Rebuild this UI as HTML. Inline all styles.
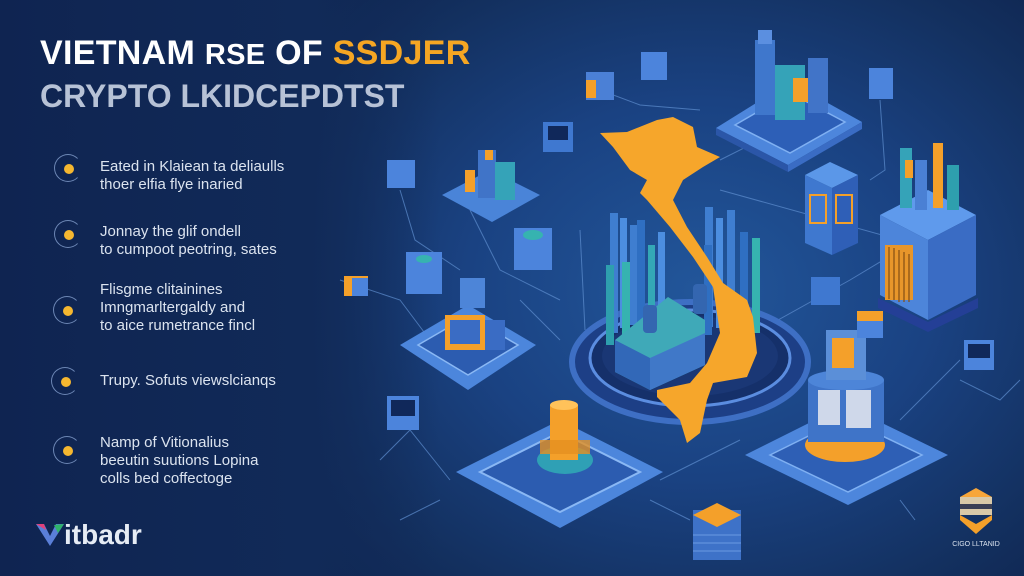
<!DOCTYPE html>
<html><head><meta charset="utf-8"><style>
html,body{margin:0;padding:0}
body{width:1024px;height:576px;overflow:hidden;position:relative;font-family:"Liberation Sans",sans-serif;
background:radial-gradient(ellipse 520px 420px at 700px 290px,#22569a 0%,#1a4282 45%,#13305f 80%,#0f2550 100%);}
.bg2{position:absolute;left:0;top:0;width:440px;height:576px;background:linear-gradient(90deg,#0f2451 0%,#112a58 70%,rgba(17,42,88,0) 100%)}
.t1{position:absolute;left:40px;top:34px;font-size:34px;font-weight:bold;color:#fff;letter-spacing:0.3px;white-space:nowrap}
.t1 .o{color:#f5a623}
.t2{position:absolute;left:40px;top:78px;font-size:32px;font-weight:bold;color:#b7c2d6;white-space:nowrap}
.b{position:absolute;left:100px;font-size:15px;line-height:18px;color:#dbe3ef;white-space:nowrap}
.c{position:absolute;width:28px;height:28px;border-radius:50%;border:1.5px solid #6c86b4;border-right-color:transparent;box-sizing:border-box}
.c:after{content:"";position:absolute;left:9px;top:9px;width:10px;height:10px;border-radius:50%;background:#f5b730}
.logo{position:absolute;left:38px;top:519px;font-size:28px;font-weight:bold;color:#e6ecf5}
</style></head><body>
<div class="bg2"></div>
<svg width="1024" height="576" style="position:absolute;left:0;top:0">
<g stroke="#5f8fd0" stroke-width="1" fill="none" opacity="0.7">
<path d="M400 190 L415 240 L460 270"/><path d="M430 340 L400 300 L340 280"/><path d="M600 90 L640 105 L700 110"/>
<path d="M560 300 L500 270 L470 210"/><path d="M720 160 L800 120"/><path d="M720 190 L900 240"/>
<path d="M760 330 L850 280 L900 250"/><path d="M880 100 L885 170 L870 180"/><path d="M960 360 L920 400 L900 420"/>
<path d="M450 480 L410 430 L380 460"/><path d="M660 480 L740 440"/><path d="M690 520 L650 500"/>
<path d="M900 500 L915 520"/><path d="M400 520 L440 500"/><path d="M520 300 L560 340"/><path d="M580 230 L585 330"/>
<path d="M960 380 L1000 400 L1020 380"/>
</g>
<ellipse cx="690" cy="362" rx="118" ry="60" fill="#1d3f86" stroke="#3e6fc4" stroke-width="6"/>
<ellipse cx="690" cy="358" rx="100" ry="48" fill="#15306a" stroke="#5b8de0" stroke-width="3"/>
<ellipse cx="690" cy="356" rx="88" ry="40" fill="#1a3775"/>
<g fill="#3f7ed0">
<rect x="610" y="213" width="8" height="120"/><rect x="620" y="218" width="7" height="110" fill="#4c8ee0"/><rect x="630" y="225" width="7" height="100"/>
<rect x="637" y="220" width="8" height="105" fill="#2f6fc2"/><rect x="648" y="245" width="7" height="85" fill="#34a8b6"/><rect x="658" y="232" width="7" height="90" fill="#4c8ee0"/>
<rect x="606" y="265" width="8" height="80" fill="#2e9fae"/><rect x="622" y="262" width="8" height="75" fill="#36b3b0"/>
<rect x="705" y="207" width="8" height="120"/><rect x="716" y="218" width="7" height="110" fill="#4c8ee0"/><rect x="727" y="210" width="8" height="115"/>
<rect x="740" y="232" width="8" height="100" fill="#2f6fc2"/><rect x="752" y="238" width="8" height="95" fill="#36b3b0"/><rect x="704" y="245" width="8" height="90" fill="#2f6fc2"/>
</g>
<polygon points="615,340 668,297 705,320 705,365 650,390 615,372" fill="#3fa9b8"/>
<polygon points="615,340 650,358 650,390 615,372" fill="#3268b8"/>
<polygon points="650,358 705,333 705,365 650,390" fill="#4078c8"/>
<rect x="643" y="305" width="14" height="28" rx="4" fill="#3466b0"/><rect x="693" y="284" width="14" height="30" rx="4" fill="#3466b0"/>
<polygon fill="#f6a62b" points="600,133 627,132 657,120 673,117 693,127 697,147 720,157 703,167 683,180 673,200 687,227 707,257 723,283 747,300 753,317 757,353 747,377 713,383 707,400 700,433 687,443 680,420 657,397 657,390 690,383 707,363 720,333 713,287 693,257 670,227 647,200 640,193 647,180 630,170 613,147"/>
<polygon points="716,128 790,82 862,122 788,165" fill="#4d86dc"/>
<polygon points="716,128 788,165 788,172 716,135" fill="#2b56a8"/><polygon points="788,165 862,122 862,129 788,172" fill="#3a6cc4"/>
<polygon points="735,125 790,93 845,122 790,153" fill="#2d5fb7" stroke="#7fb0f2" stroke-width="1.5"/>
<rect x="755" y="40" width="20" height="75" fill="#3f77cc"/><rect x="775" y="65" width="30" height="55" fill="#35a3b8"/>
<rect x="793" y="78" width="20" height="24" fill="#f4a02a"/><rect x="808" y="58" width="20" height="55" fill="#4174c8"/>
<rect x="758" y="30" width="14" height="14" fill="#5b8fe0"/>
<polygon points="880,215 928,190 976,215 928,240" fill="#5f9aec"/>
<polygon points="880,215 928,240 928,320 880,295" fill="#4d85da"/><polygon points="928,240 976,215 976,295 928,320" fill="#3a6cc4"/>
<rect x="885" y="245" width="28" height="55" fill="#e8962a"/>
<g stroke="#8a5414" stroke-width="1.3"><path d="M889 247v52M894 248v52M899 250v52M904 252v50M909 254v48"/></g>
<polygon points="878,298 928,322 978,298 978,308 928,332 878,308" fill="#243f96"/>
<rect x="900" y="148" width="12" height="60" fill="#35a3b8"/><rect x="915" y="160" width="12" height="50" fill="#4a80d4"/>
<rect x="933" y="143" width="10" height="65" fill="#f4a02a"/><rect x="947" y="165" width="12" height="45" fill="#2e9fae"/>
<rect x="905" y="160" width="8" height="18" fill="#f4a02a"/>
<polygon points="805,175 830,162 858,175 832,188" fill="#5b97e8"/>
<polygon points="805,175 832,188 832,255 805,243" fill="#3f78cf"/><polygon points="832,188 858,175 858,243 832,255" fill="#2f5fb7"/>
<rect x="810" y="195" width="16" height="28" fill="none" stroke="#f4a02a" stroke-width="2"/>
<rect x="836" y="195" width="16" height="28" fill="none" stroke="#f4a02a" stroke-width="2"/>
<polygon points="745,455 845,405 948,455 848,505" fill="#4d86dc"/>
<polygon points="770,455 845,418 922,455 848,492" fill="#2e5fb5" stroke="#7fb0f2" stroke-width="1.5"/>
<ellipse cx="845" cy="445" rx="40" ry="17" fill="#f4a02a"/>
<rect x="808" y="380" width="76" height="62" fill="#3f74c8"/>
<ellipse cx="846" cy="380" rx="38" ry="10" fill="#4d85d8"/>
<rect x="818" y="390" width="22" height="35" fill="#cfd8ea"/><rect x="846" y="390" width="25" height="38" fill="#cfd8ea"/>
<rect x="826" y="330" width="40" height="50" fill="#5b8fd8"/><rect x="832" y="338" width="22" height="30" fill="#f4a02a"/>
<polygon points="456,472 560,420 663,472 560,528" fill="#4c86dc"/>
<polygon points="480,472 560,432 640,472 560,512" fill="#2c5cb0" stroke="#8ab8f4" stroke-width="2"/>
<ellipse cx="565" cy="460" rx="28" ry="14" fill="#2fa0b5"/>
<rect x="550" y="405" width="28" height="55" fill="#f4a02a"/><ellipse cx="564" cy="405" rx="14" ry="5" fill="#ffc25a"/>
<rect x="540" y="440" width="50" height="14" fill="#e59020" opacity="0.8"/>
<polygon points="400,345 468,305 536,345 468,390" fill="#4c86dc"/>
<polygon points="418,345 468,316 518,345 468,375" fill="#2c5cb0" stroke="#8ab8f4" stroke-width="1.5"/>
<rect x="445" y="315" width="40" height="35" fill="#f4a02a"/><rect x="450" y="320" width="30" height="24" fill="#3a6cc4"/>
<rect x="485" y="320" width="20" height="30" fill="#3a6cc4"/><rect x="460" y="278" width="25" height="30" fill="#4d85d8"/>
<polygon points="442,195 490,170 540,195 492,222" fill="#4a84d8"/>
<rect x="478" y="150" width="18" height="48" fill="#4074c8"/><rect x="495" y="162" width="20" height="38" fill="#35a3b8"/><rect x="465" y="170" width="10" height="22" fill="#f4a02a"/><rect x="485" y="150" width="8" height="10" fill="#f4a02a"/>
<g>
<rect x="586" y="72" width="28" height="28" fill="#4b80d6"/><rect x="586" y="80" width="10" height="18" fill="#f4a02a"/>
<rect x="641" y="52" width="26" height="28" fill="#4c84dc"/>
<rect x="543" y="122" width="30" height="30" fill="#3f78d0"/><rect x="548" y="126" width="20" height="14" fill="#10285a"/>
<rect x="387" y="160" width="28" height="28" fill="#4c84dc"/>
<rect x="514" y="228" width="38" height="42" fill="#4c84dc"/><ellipse cx="533" cy="235" rx="10" ry="5" fill="#36b3b0"/>
<rect x="406" y="252" width="36" height="42" fill="#4c84dc"/><ellipse cx="424" cy="259" rx="8" ry="4" fill="#36b3b0"/>
<rect x="869" y="68" width="24" height="31" fill="#4c84dc"/>
<rect x="811" y="277" width="29" height="28" fill="#3f78d0"/>
<rect x="857" y="311" width="26" height="27" fill="#4c84dc"/><rect x="857" y="311" width="26" height="10" fill="#f4a02a"/>
<rect x="964" y="340" width="30" height="30" fill="#4c84dc"/><rect x="968" y="344" width="22" height="14" fill="#10285a"/>
<rect x="387" y="396" width="32" height="34" fill="#4c84dc"/><rect x="391" y="400" width="24" height="16" fill="#10285a"/>
<rect x="344" y="276" width="24" height="20" fill="#f4a02a"/><rect x="352" y="278" width="16" height="18" fill="#4c84dc"/>
<rect x="693" y="510" width="48" height="50" fill="#3e72c8"/><polygon points="693,515 717,503 741,515 717,527" fill="#f4a02a"/>
<g stroke="#6b9ae2" stroke-width="1"><path d="M693 535h48M693 543h48M693 551h48"/></g>
</g>
<polygon points="960,497 976,488 992,497 976,506" fill="#f7a63a"/>
<rect x="960" y="497" width="32" height="18" fill="#d9c9a8"/><rect x="960" y="504" width="32" height="5" fill="#3a3f55"/>
<polygon points="960,515 976,524 992,515 992,520 976,534 960,520" fill="#f4a02a"/>
<text x="976" y="546" font-size="7" fill="#dbe3ef" text-anchor="middle" font-family="Liberation Sans">CIGO LLTANID</text>
</svg>
<div class="t1">VIETNAM <span style="font-size:29px">RSE</span> OF <span class="o">SSDJER</span></div>
<div class="t2">CRYPTO LKIDCEPDTST</div>
<div class="c" style="left:54px;top:154px"></div>
<div class="b" style="top:158px">Eated in Klaiean ta deliaulls<br>thoer elfia flye inaried</div>
<div class="c" style="left:54px;top:220px"></div>
<div class="b" style="top:223px">Jonnay the glif ondell<br>to cumpoot peotring, sates</div>
<div class="c" style="left:53px;top:296px"></div>
<div class="b" style="top:281px">Flisgme clitainines<br>Imngmarltergaldy and<br>to aice rumetrance fincl</div>
<div class="c" style="left:51px;top:367px"></div>
<div class="b" style="top:372px">Trupy. Sofuts viewslcianqs</div>
<div class="c" style="left:53px;top:436px"></div>
<div class="b" style="top:434px">Namp of Vitionalius<br>beeutin suutions Lopina<br>colls bed coffectoge</div>
<svg width="30" height="26" style="position:absolute;left:36px;top:522px"><polygon points="0,2 14,24 28,2 20,2 14,14 8,2" fill="#5a7fd8"/><polygon points="18,3 28,2 22,11" fill="#2fb36a"/><polygon points="0,2 8,2 10,8" fill="#e0407a"/></svg>
<div class="logo" style="left:64px">itbadr</div>
</body></html>
